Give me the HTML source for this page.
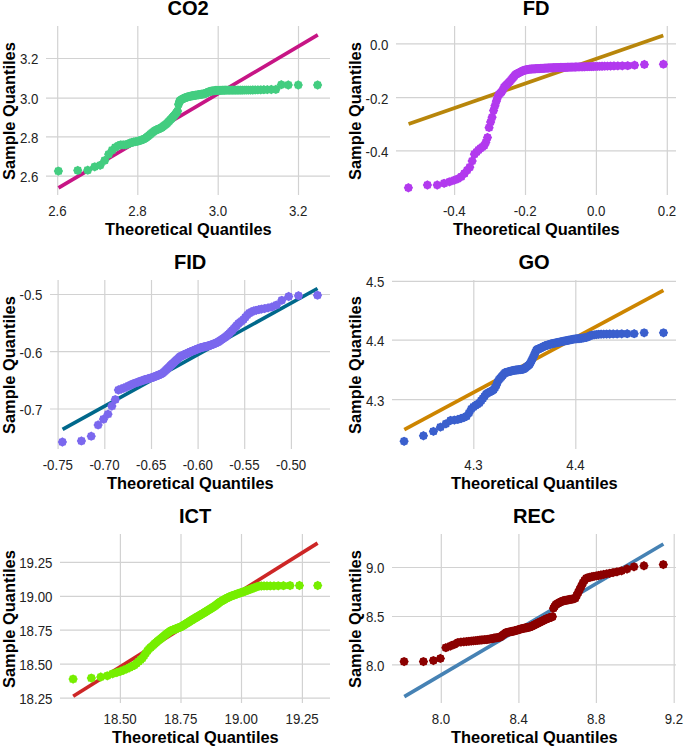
<!DOCTYPE html>
<html><head><meta charset="utf-8"><title>QQ plots</title>
<style>html,body{margin:0;padding:0;background:#fff;} svg{display:block;} text{font-family:"Liberation Sans", sans-serif;}</style>
</head><body>
<svg width="685" height="746" viewBox="0 0 685 746" font-family='"Liberation Sans", sans-serif'><defs><polygon id="pt" points="0.00,-4.65 1.55,-3.74 3.29,-3.29 3.74,-1.55 4.65,-0.00 3.74,1.55 3.29,3.29 1.55,3.74 0.00,4.65 -1.55,3.74 -3.29,3.29 -3.74,1.55 -4.65,0.00 -3.74,-1.55 -3.29,-3.29 -1.55,-3.74"/></defs><g stroke="#D2D2D2" stroke-width="1.2"><line x1="57.7" y1="26" x2="57.7" y2="195" /><line x1="137.8" y1="26" x2="137.8" y2="195" /><line x1="218.2" y1="26" x2="218.2" y2="195" /><line x1="298.5" y1="26" x2="298.5" y2="195" /><line x1="46" y1="58.5" x2="330" y2="58.5" /><line x1="46" y1="98.2" x2="330" y2="98.2" /><line x1="46" y1="136.9" x2="330" y2="136.9" /><line x1="46" y1="176.1" x2="330" y2="176.1" /></g>
<line x1="58.5" y1="187.9" x2="317.8" y2="34.9" stroke="#C71585" stroke-width="3.7" />
<g fill="#43CD80"><use href="#pt" x="58.40" y="171.09"/><use href="#pt" x="77.74" y="170.41"/><use href="#pt" x="87.70" y="170.16"/><use href="#pt" x="94.69" y="166.81"/><use href="#pt" x="100.17" y="165.33"/><use href="#pt" x="104.73" y="160.40"/><use href="#pt" x="108.66" y="154.30"/><use href="#pt" x="112.14" y="150.14"/><use href="#pt" x="115.27" y="147.41"/><use href="#pt" x="118.13" y="145.72"/><use href="#pt" x="120.77" y="144.80"/><use href="#pt" x="123.23" y="144.80"/><use href="#pt" x="125.53" y="144.80"/><use href="#pt" x="127.71" y="144.06"/><use href="#pt" x="129.77" y="143.22"/><use href="#pt" x="131.73" y="142.41"/><use href="#pt" x="133.60" y="142.01"/><use href="#pt" x="135.40" y="141.69"/><use href="#pt" x="137.13" y="141.37"/><use href="#pt" x="138.80" y="140.95"/><use href="#pt" x="140.41" y="140.38"/><use href="#pt" x="141.98" y="139.82"/><use href="#pt" x="143.49" y="139.29"/><use href="#pt" x="144.97" y="138.51"/><use href="#pt" x="146.41" y="137.46"/><use href="#pt" x="147.81" y="136.38"/><use href="#pt" x="149.18" y="135.24"/><use href="#pt" x="150.52" y="134.13"/><use href="#pt" x="151.83" y="133.06"/><use href="#pt" x="153.12" y="132.04"/><use href="#pt" x="154.38" y="131.05"/><use href="#pt" x="155.62" y="130.22"/><use href="#pt" x="156.84" y="129.70"/><use href="#pt" x="158.05" y="129.19"/><use href="#pt" x="159.23" y="128.68"/><use href="#pt" x="160.40" y="128.18"/><use href="#pt" x="161.55" y="127.61"/><use href="#pt" x="162.69" y="126.73"/><use href="#pt" x="163.81" y="125.87"/><use href="#pt" x="164.92" y="125.01"/><use href="#pt" x="166.02" y="124.17"/><use href="#pt" x="167.11" y="123.17"/><use href="#pt" x="168.19" y="122.04"/><use href="#pt" x="169.26" y="120.93"/><use href="#pt" x="170.32" y="119.83"/><use href="#pt" x="171.37" y="118.74"/><use href="#pt" x="172.41" y="117.57"/><use href="#pt" x="173.45" y="116.38"/><use href="#pt" x="174.48" y="115.20"/><use href="#pt" x="175.50" y="114.02"/><use href="#pt" x="176.52" y="112.59"/><use href="#pt" x="177.54" y="111.09"/><use href="#pt" x="178.55" y="104.37"/><use href="#pt" x="179.55" y="101.14"/><use href="#pt" x="180.55" y="100.28"/><use href="#pt" x="181.55" y="99.53"/><use href="#pt" x="182.55" y="98.95"/><use href="#pt" x="183.54" y="98.49"/><use href="#pt" x="184.54" y="98.03"/><use href="#pt" x="185.53" y="97.57"/><use href="#pt" x="186.52" y="97.24"/><use href="#pt" x="187.51" y="96.98"/><use href="#pt" x="188.49" y="96.72"/><use href="#pt" x="189.48" y="96.46"/><use href="#pt" x="190.47" y="96.20"/><use href="#pt" x="191.46" y="95.94"/><use href="#pt" x="192.46" y="95.73"/><use href="#pt" x="193.45" y="95.56"/><use href="#pt" x="194.45" y="95.40"/><use href="#pt" x="195.45" y="95.24"/><use href="#pt" x="196.45" y="95.07"/><use href="#pt" x="197.45" y="94.91"/><use href="#pt" x="198.46" y="94.74"/><use href="#pt" x="199.48" y="94.58"/><use href="#pt" x="200.50" y="94.41"/><use href="#pt" x="201.52" y="94.25"/><use href="#pt" x="202.55" y="94.08"/><use href="#pt" x="203.59" y="93.91"/><use href="#pt" x="204.63" y="93.66"/><use href="#pt" x="205.68" y="93.21"/><use href="#pt" x="206.74" y="92.76"/><use href="#pt" x="207.81" y="92.30"/><use href="#pt" x="208.89" y="91.84"/><use href="#pt" x="209.98" y="91.38"/><use href="#pt" x="211.08" y="91.11"/><use href="#pt" x="212.19" y="90.97"/><use href="#pt" x="213.31" y="90.82"/><use href="#pt" x="214.45" y="90.67"/><use href="#pt" x="215.60" y="90.52"/><use href="#pt" x="216.77" y="90.39"/><use href="#pt" x="217.95" y="90.37"/><use href="#pt" x="219.16" y="90.35"/><use href="#pt" x="220.38" y="90.32"/><use href="#pt" x="221.62" y="90.30"/><use href="#pt" x="222.88" y="90.27"/><use href="#pt" x="224.17" y="90.25"/><use href="#pt" x="225.48" y="90.22"/><use href="#pt" x="226.82" y="90.20"/><use href="#pt" x="228.19" y="90.20"/><use href="#pt" x="229.59" y="90.20"/><use href="#pt" x="231.03" y="90.20"/><use href="#pt" x="232.51" y="90.20"/><use href="#pt" x="234.02" y="90.20"/><use href="#pt" x="235.59" y="90.20"/><use href="#pt" x="237.20" y="90.20"/><use href="#pt" x="238.87" y="90.20"/><use href="#pt" x="240.60" y="90.19"/><use href="#pt" x="242.40" y="90.16"/><use href="#pt" x="244.27" y="90.13"/><use href="#pt" x="246.23" y="90.10"/><use href="#pt" x="248.29" y="90.07"/><use href="#pt" x="250.47" y="90.04"/><use href="#pt" x="252.77" y="90.00"/><use href="#pt" x="255.23" y="89.94"/><use href="#pt" x="257.87" y="89.87"/><use href="#pt" x="260.73" y="89.80"/><use href="#pt" x="263.86" y="89.72"/><use href="#pt" x="267.34" y="89.63"/><use href="#pt" x="271.27" y="89.52"/><use href="#pt" x="275.83" y="89.40"/><use href="#pt" x="281.31" y="84.72"/><use href="#pt" x="288.30" y="85.00"/><use href="#pt" x="298.26" y="85.00"/><use href="#pt" x="317.60" y="85.00"/></g>
<g font-size="14.2" fill="#222"><text transform="translate(57.4,215.5) scale(0.935,1)" text-anchor="middle">2.6</text><text transform="translate(137.5,215.5) scale(0.935,1)" text-anchor="middle">2.8</text><text transform="translate(217.9,215.5) scale(0.935,1)" text-anchor="middle">3.0</text><text transform="translate(298.2,215.5) scale(0.935,1)" text-anchor="middle">3.2</text><text transform="translate(38.4,64.4) scale(0.935,1)" text-anchor="end">3.2</text><text transform="translate(38.4,104.1) scale(0.935,1)" text-anchor="end">3.0</text><text transform="translate(38.4,142.8) scale(0.935,1)" text-anchor="end">2.8</text><text transform="translate(38.4,182.0) scale(0.935,1)" text-anchor="end">2.6</text></g>
<text x="188.35" y="234.7" text-anchor="middle" font-size="16.4" font-weight="bold">Theoretical Quantiles</text>
<text transform="translate(14.5,111.1) rotate(-90)" text-anchor="middle" font-size="16.45" font-weight="bold">Sample Quantiles</text>
<text x="188.1" y="15.4" text-anchor="middle" font-size="20.1" font-weight="bold">CO2</text>
<g stroke="#D2D2D2" stroke-width="1.2"><line x1="454.6" y1="26" x2="454.6" y2="195" /><line x1="525.5" y1="26" x2="525.5" y2="195" /><line x1="596.4" y1="26" x2="596.4" y2="195" /><line x1="667.3" y1="26" x2="667.3" y2="195" /><line x1="396" y1="43.9" x2="676" y2="43.9" /><line x1="396" y1="97.6" x2="676" y2="97.6" /><line x1="396" y1="150.9" x2="676" y2="150.9" /></g>
<line x1="408.6" y1="123.9" x2="663.3" y2="35.6" stroke="#B8860B" stroke-width="3.7" />
<g fill="#B23AEE"><use href="#pt" x="408.40" y="187.77"/><use href="#pt" x="427.42" y="185.00"/><use href="#pt" x="437.22" y="185.00"/><use href="#pt" x="444.10" y="183.34"/><use href="#pt" x="449.49" y="181.78"/><use href="#pt" x="453.98" y="180.30"/><use href="#pt" x="457.85" y="178.82"/><use href="#pt" x="461.27" y="176.64"/><use href="#pt" x="464.35" y="173.61"/><use href="#pt" x="467.17" y="170.29"/><use href="#pt" x="469.76" y="167.14"/><use href="#pt" x="472.18" y="161.06"/><use href="#pt" x="474.45" y="154.16"/><use href="#pt" x="476.58" y="151.92"/><use href="#pt" x="478.61" y="149.89"/><use href="#pt" x="480.54" y="148.29"/><use href="#pt" x="482.38" y="146.93"/><use href="#pt" x="484.15" y="145.63"/><use href="#pt" x="485.86" y="142.23"/><use href="#pt" x="487.50" y="137.43"/><use href="#pt" x="489.08" y="127.63"/><use href="#pt" x="490.62" y="121.94"/><use href="#pt" x="492.11" y="117.22"/><use href="#pt" x="493.57" y="110.48"/><use href="#pt" x="494.98" y="105.77"/><use href="#pt" x="496.36" y="101.17"/><use href="#pt" x="497.71" y="97.23"/><use href="#pt" x="499.03" y="94.39"/><use href="#pt" x="500.32" y="93.13"/><use href="#pt" x="501.58" y="91.90"/><use href="#pt" x="502.83" y="89.95"/><use href="#pt" x="504.05" y="87.25"/><use href="#pt" x="505.25" y="86.05"/><use href="#pt" x="506.43" y="84.87"/><use href="#pt" x="507.60" y="83.70"/><use href="#pt" x="508.75" y="82.55"/><use href="#pt" x="509.88" y="81.41"/><use href="#pt" x="511.00" y="80.05"/><use href="#pt" x="512.10" y="78.72"/><use href="#pt" x="513.20" y="77.40"/><use href="#pt" x="514.28" y="76.10"/><use href="#pt" x="515.35" y="74.80"/><use href="#pt" x="516.41" y="74.09"/><use href="#pt" x="517.46" y="73.55"/><use href="#pt" x="518.50" y="73.01"/><use href="#pt" x="519.54" y="72.48"/><use href="#pt" x="520.57" y="71.96"/><use href="#pt" x="521.59" y="71.43"/><use href="#pt" x="522.60" y="70.91"/><use href="#pt" x="523.61" y="70.40"/><use href="#pt" x="524.61" y="70.14"/><use href="#pt" x="525.61" y="69.95"/><use href="#pt" x="526.60" y="69.76"/><use href="#pt" x="527.59" y="69.57"/><use href="#pt" x="528.58" y="69.38"/><use href="#pt" x="529.56" y="69.19"/><use href="#pt" x="530.54" y="69.07"/><use href="#pt" x="531.52" y="69.01"/><use href="#pt" x="532.49" y="68.95"/><use href="#pt" x="533.47" y="68.89"/><use href="#pt" x="534.44" y="68.83"/><use href="#pt" x="535.41" y="68.77"/><use href="#pt" x="536.39" y="68.71"/><use href="#pt" x="537.36" y="68.65"/><use href="#pt" x="538.33" y="68.59"/><use href="#pt" x="539.31" y="68.53"/><use href="#pt" x="540.28" y="68.47"/><use href="#pt" x="541.26" y="68.41"/><use href="#pt" x="542.24" y="68.35"/><use href="#pt" x="543.22" y="68.29"/><use href="#pt" x="544.21" y="68.23"/><use href="#pt" x="545.20" y="68.16"/><use href="#pt" x="546.19" y="68.10"/><use href="#pt" x="547.19" y="68.04"/><use href="#pt" x="548.19" y="67.98"/><use href="#pt" x="549.20" y="67.92"/><use href="#pt" x="550.21" y="67.87"/><use href="#pt" x="551.23" y="67.84"/><use href="#pt" x="552.26" y="67.80"/><use href="#pt" x="553.30" y="67.77"/><use href="#pt" x="554.34" y="67.73"/><use href="#pt" x="555.39" y="67.69"/><use href="#pt" x="556.45" y="67.65"/><use href="#pt" x="557.52" y="67.61"/><use href="#pt" x="558.60" y="67.58"/><use href="#pt" x="559.70" y="67.54"/><use href="#pt" x="560.80" y="67.50"/><use href="#pt" x="561.92" y="67.46"/><use href="#pt" x="563.05" y="67.42"/><use href="#pt" x="564.20" y="67.38"/><use href="#pt" x="565.37" y="67.34"/><use href="#pt" x="566.55" y="67.29"/><use href="#pt" x="567.75" y="67.25"/><use href="#pt" x="568.97" y="67.21"/><use href="#pt" x="570.22" y="67.16"/><use href="#pt" x="571.48" y="67.12"/><use href="#pt" x="572.77" y="67.08"/><use href="#pt" x="574.09" y="67.04"/><use href="#pt" x="575.44" y="67.00"/><use href="#pt" x="576.82" y="66.96"/><use href="#pt" x="578.23" y="66.92"/><use href="#pt" x="579.69" y="66.88"/><use href="#pt" x="581.18" y="66.84"/><use href="#pt" x="582.72" y="66.79"/><use href="#pt" x="584.30" y="66.75"/><use href="#pt" x="585.94" y="66.70"/><use href="#pt" x="587.65" y="66.65"/><use href="#pt" x="589.42" y="66.60"/><use href="#pt" x="591.26" y="66.55"/><use href="#pt" x="593.19" y="66.49"/><use href="#pt" x="595.22" y="66.44"/><use href="#pt" x="597.35" y="66.38"/><use href="#pt" x="599.62" y="66.31"/><use href="#pt" x="602.04" y="66.25"/><use href="#pt" x="604.63" y="66.19"/><use href="#pt" x="607.45" y="66.13"/><use href="#pt" x="610.53" y="66.05"/><use href="#pt" x="613.95" y="65.97"/><use href="#pt" x="617.82" y="65.88"/><use href="#pt" x="622.31" y="65.78"/><use href="#pt" x="627.70" y="65.65"/><use href="#pt" x="634.58" y="65.17"/><use href="#pt" x="644.38" y="64.45"/><use href="#pt" x="663.40" y="64.20"/></g>
<g font-size="14.2" fill="#222"><text transform="translate(454.3,215.5) scale(0.935,1)" text-anchor="middle">-0.4</text><text transform="translate(525.2,215.5) scale(0.935,1)" text-anchor="middle">-0.2</text><text transform="translate(596.1,215.5) scale(0.935,1)" text-anchor="middle">0.0</text><text transform="translate(667.0,215.5) scale(0.935,1)" text-anchor="middle">0.2</text><text transform="translate(388.4,49.8) scale(0.935,1)" text-anchor="end">0.0</text><text transform="translate(388.4,103.5) scale(0.935,1)" text-anchor="end">-0.2</text><text transform="translate(388.4,156.8) scale(0.935,1)" text-anchor="end">-0.4</text></g>
<text x="536.35" y="234.7" text-anchor="middle" font-size="16.4" font-weight="bold">Theoretical Quantiles</text>
<text transform="translate(360.5,111.1) rotate(-90)" text-anchor="middle" font-size="16.45" font-weight="bold">Sample Quantiles</text>
<text x="536.1" y="15.4" text-anchor="middle" font-size="20.1" font-weight="bold">FD</text>
<g stroke="#D2D2D2" stroke-width="1.2"><line x1="58.1" y1="280" x2="58.1" y2="449" /><line x1="104.8" y1="280" x2="104.8" y2="449" /><line x1="151.5" y1="280" x2="151.5" y2="449" /><line x1="198.1" y1="280" x2="198.1" y2="449" /><line x1="244.7" y1="280" x2="244.7" y2="449" /><line x1="291.4" y1="280" x2="291.4" y2="449" /><line x1="50" y1="294.5" x2="330" y2="294.5" /><line x1="50" y1="351.7" x2="330" y2="351.7" /><line x1="50" y1="409" x2="330" y2="409" /></g>
<line x1="62.6" y1="429.4" x2="317.5" y2="288.5" stroke="#00688B" stroke-width="3.7" />
<g fill="#7B68EE"><use href="#pt" x="62.40" y="442.00"/><use href="#pt" x="81.43" y="440.89"/><use href="#pt" x="91.23" y="436.18"/><use href="#pt" x="98.11" y="424.96"/><use href="#pt" x="103.51" y="419.15"/><use href="#pt" x="108.00" y="414.13"/><use href="#pt" x="111.87" y="406.10"/><use href="#pt" x="115.29" y="399.60"/><use href="#pt" x="118.38" y="390.02"/><use href="#pt" x="121.19" y="388.99"/><use href="#pt" x="123.79" y="388.05"/><use href="#pt" x="126.20" y="386.99"/><use href="#pt" x="128.47" y="385.97"/><use href="#pt" x="130.61" y="385.00"/><use href="#pt" x="132.64" y="384.08"/><use href="#pt" x="134.57" y="383.29"/><use href="#pt" x="136.41" y="382.63"/><use href="#pt" x="138.18" y="382.00"/><use href="#pt" x="139.89" y="381.39"/><use href="#pt" x="141.53" y="380.80"/><use href="#pt" x="143.12" y="380.23"/><use href="#pt" x="144.65" y="379.77"/><use href="#pt" x="146.15" y="379.33"/><use href="#pt" x="147.60" y="378.90"/><use href="#pt" x="149.01" y="378.49"/><use href="#pt" x="150.39" y="378.08"/><use href="#pt" x="151.74" y="377.68"/><use href="#pt" x="153.06" y="377.26"/><use href="#pt" x="154.35" y="376.74"/><use href="#pt" x="155.62" y="376.23"/><use href="#pt" x="156.86" y="375.73"/><use href="#pt" x="158.09" y="375.25"/><use href="#pt" x="159.29" y="374.76"/><use href="#pt" x="160.47" y="374.29"/><use href="#pt" x="161.64" y="373.83"/><use href="#pt" x="162.78" y="373.05"/><use href="#pt" x="163.92" y="371.99"/><use href="#pt" x="165.04" y="370.94"/><use href="#pt" x="166.14" y="369.91"/><use href="#pt" x="167.24" y="368.86"/><use href="#pt" x="168.32" y="367.78"/><use href="#pt" x="169.39" y="366.71"/><use href="#pt" x="170.45" y="365.65"/><use href="#pt" x="171.50" y="364.61"/><use href="#pt" x="172.55" y="363.65"/><use href="#pt" x="173.58" y="362.70"/><use href="#pt" x="174.61" y="361.75"/><use href="#pt" x="175.63" y="360.81"/><use href="#pt" x="176.64" y="359.87"/><use href="#pt" x="177.65" y="358.94"/><use href="#pt" x="178.66" y="358.02"/><use href="#pt" x="179.65" y="357.10"/><use href="#pt" x="180.65" y="356.34"/><use href="#pt" x="181.64" y="355.88"/><use href="#pt" x="182.62" y="355.43"/><use href="#pt" x="183.61" y="354.98"/><use href="#pt" x="184.59" y="354.52"/><use href="#pt" x="185.56" y="354.07"/><use href="#pt" x="186.54" y="353.62"/><use href="#pt" x="187.52" y="353.18"/><use href="#pt" x="188.49" y="352.73"/><use href="#pt" x="189.46" y="352.28"/><use href="#pt" x="190.44" y="351.83"/><use href="#pt" x="191.41" y="351.44"/><use href="#pt" x="192.38" y="351.05"/><use href="#pt" x="193.36" y="350.66"/><use href="#pt" x="194.34" y="350.27"/><use href="#pt" x="195.31" y="349.88"/><use href="#pt" x="196.29" y="349.49"/><use href="#pt" x="197.28" y="349.10"/><use href="#pt" x="198.26" y="348.71"/><use href="#pt" x="199.25" y="348.32"/><use href="#pt" x="200.25" y="347.92"/><use href="#pt" x="201.24" y="347.59"/><use href="#pt" x="202.25" y="347.33"/><use href="#pt" x="203.26" y="347.07"/><use href="#pt" x="204.27" y="346.82"/><use href="#pt" x="205.29" y="346.56"/><use href="#pt" x="206.32" y="346.29"/><use href="#pt" x="207.35" y="346.03"/><use href="#pt" x="208.40" y="345.76"/><use href="#pt" x="209.45" y="345.50"/><use href="#pt" x="210.51" y="345.23"/><use href="#pt" x="211.58" y="344.85"/><use href="#pt" x="212.66" y="344.37"/><use href="#pt" x="213.76" y="343.90"/><use href="#pt" x="214.86" y="343.41"/><use href="#pt" x="215.98" y="342.92"/><use href="#pt" x="217.12" y="342.43"/><use href="#pt" x="218.26" y="341.89"/><use href="#pt" x="219.43" y="341.09"/><use href="#pt" x="220.61" y="340.28"/><use href="#pt" x="221.81" y="339.46"/><use href="#pt" x="223.04" y="338.63"/><use href="#pt" x="224.28" y="337.78"/><use href="#pt" x="225.55" y="336.91"/><use href="#pt" x="226.84" y="335.86"/><use href="#pt" x="228.16" y="334.54"/><use href="#pt" x="229.51" y="333.19"/><use href="#pt" x="230.89" y="331.81"/><use href="#pt" x="232.30" y="330.40"/><use href="#pt" x="233.75" y="328.79"/><use href="#pt" x="235.25" y="327.12"/><use href="#pt" x="236.78" y="325.39"/><use href="#pt" x="238.37" y="323.64"/><use href="#pt" x="240.01" y="322.32"/><use href="#pt" x="241.72" y="320.95"/><use href="#pt" x="243.49" y="319.50"/><use href="#pt" x="245.33" y="317.29"/><use href="#pt" x="247.26" y="314.98"/><use href="#pt" x="249.29" y="313.10"/><use href="#pt" x="251.43" y="312.01"/><use href="#pt" x="253.70" y="310.88"/><use href="#pt" x="256.11" y="310.28"/><use href="#pt" x="258.71" y="309.64"/><use href="#pt" x="261.52" y="309.11"/><use href="#pt" x="264.61" y="308.61"/><use href="#pt" x="268.03" y="307.88"/><use href="#pt" x="271.90" y="306.92"/><use href="#pt" x="276.39" y="305.09"/><use href="#pt" x="281.79" y="300.31"/><use href="#pt" x="288.67" y="296.50"/><use href="#pt" x="298.47" y="295.70"/><use href="#pt" x="317.50" y="295.20"/></g>
<g font-size="14.2" fill="#222"><text transform="translate(57.8,469.5) scale(0.935,1)" text-anchor="middle">-0.75</text><text transform="translate(104.5,469.5) scale(0.935,1)" text-anchor="middle">-0.70</text><text transform="translate(151.2,469.5) scale(0.935,1)" text-anchor="middle">-0.65</text><text transform="translate(197.8,469.5) scale(0.935,1)" text-anchor="middle">-0.60</text><text transform="translate(244.4,469.5) scale(0.935,1)" text-anchor="middle">-0.55</text><text transform="translate(291.1,469.5) scale(0.935,1)" text-anchor="middle">-0.50</text><text transform="translate(42.4,300.4) scale(0.935,1)" text-anchor="end">-0.5</text><text transform="translate(42.4,357.6) scale(0.935,1)" text-anchor="end">-0.6</text><text transform="translate(42.4,414.9) scale(0.935,1)" text-anchor="end">-0.7</text></g>
<text x="190.35" y="488.7" text-anchor="middle" font-size="16.4" font-weight="bold">Theoretical Quantiles</text>
<text transform="translate(14.5,365.1) rotate(-90)" text-anchor="middle" font-size="16.45" font-weight="bold">Sample Quantiles</text>
<text x="190.1" y="269.4" text-anchor="middle" font-size="20.1" font-weight="bold">FID</text>
<g stroke="#D2D2D2" stroke-width="1.2"><line x1="473.8" y1="280" x2="473.8" y2="449" /><line x1="575.8" y1="280" x2="575.8" y2="449" /><line x1="392" y1="281.3" x2="676" y2="281.3" /><line x1="392" y1="340.2" x2="676" y2="340.2" /><line x1="392" y1="399.7" x2="676" y2="399.7" /></g>
<line x1="404.3" y1="429.6" x2="663.4" y2="290.4" stroke="#CD8500" stroke-width="3.7" />
<g fill="#3A5FCD"><use href="#pt" x="404.10" y="441.30"/><use href="#pt" x="423.45" y="435.73"/><use href="#pt" x="433.42" y="431.37"/><use href="#pt" x="440.42" y="427.13"/><use href="#pt" x="445.90" y="423.78"/><use href="#pt" x="450.47" y="420.52"/><use href="#pt" x="454.40" y="420.10"/><use href="#pt" x="457.88" y="419.42"/><use href="#pt" x="461.02" y="418.48"/><use href="#pt" x="463.88" y="417.56"/><use href="#pt" x="466.52" y="416.20"/><use href="#pt" x="468.98" y="413.04"/><use href="#pt" x="471.29" y="409.01"/><use href="#pt" x="473.46" y="406.89"/><use href="#pt" x="475.52" y="405.50"/><use href="#pt" x="477.48" y="404.19"/><use href="#pt" x="479.36" y="402.93"/><use href="#pt" x="481.16" y="400.64"/><use href="#pt" x="482.89" y="398.42"/><use href="#pt" x="484.56" y="396.20"/><use href="#pt" x="486.18" y="393.92"/><use href="#pt" x="487.74" y="392.93"/><use href="#pt" x="489.26" y="392.17"/><use href="#pt" x="490.73" y="391.43"/><use href="#pt" x="492.17" y="390.71"/><use href="#pt" x="493.58" y="389.82"/><use href="#pt" x="494.95" y="387.66"/><use href="#pt" x="496.29" y="385.27"/><use href="#pt" x="497.60" y="381.95"/><use href="#pt" x="498.89" y="379.78"/><use href="#pt" x="500.16" y="378.32"/><use href="#pt" x="501.40" y="376.88"/><use href="#pt" x="502.62" y="375.47"/><use href="#pt" x="503.82" y="374.08"/><use href="#pt" x="505.01" y="372.71"/><use href="#pt" x="506.18" y="372.33"/><use href="#pt" x="507.33" y="372.03"/><use href="#pt" x="508.47" y="371.74"/><use href="#pt" x="509.59" y="371.45"/><use href="#pt" x="510.70" y="371.17"/><use href="#pt" x="511.81" y="370.89"/><use href="#pt" x="512.89" y="370.61"/><use href="#pt" x="513.97" y="370.33"/><use href="#pt" x="515.04" y="370.14"/><use href="#pt" x="516.10" y="370.01"/><use href="#pt" x="517.16" y="369.89"/><use href="#pt" x="518.20" y="369.76"/><use href="#pt" x="519.24" y="369.64"/><use href="#pt" x="520.27" y="369.52"/><use href="#pt" x="521.30" y="369.40"/><use href="#pt" x="522.31" y="369.28"/><use href="#pt" x="523.33" y="369.16"/><use href="#pt" x="524.34" y="368.66"/><use href="#pt" x="525.35" y="367.85"/><use href="#pt" x="526.35" y="367.03"/><use href="#pt" x="527.35" y="366.22"/><use href="#pt" x="528.35" y="365.42"/><use href="#pt" x="529.34" y="364.61"/><use href="#pt" x="530.33" y="362.93"/><use href="#pt" x="531.32" y="360.95"/><use href="#pt" x="532.32" y="358.97"/><use href="#pt" x="533.31" y="356.94"/><use href="#pt" x="534.29" y="354.74"/><use href="#pt" x="535.28" y="352.53"/><use href="#pt" x="536.28" y="350.32"/><use href="#pt" x="537.27" y="349.36"/><use href="#pt" x="538.26" y="349.01"/><use href="#pt" x="539.25" y="348.66"/><use href="#pt" x="540.25" y="348.27"/><use href="#pt" x="541.25" y="347.75"/><use href="#pt" x="542.25" y="347.23"/><use href="#pt" x="543.26" y="346.70"/><use href="#pt" x="544.27" y="346.18"/><use href="#pt" x="545.29" y="345.71"/><use href="#pt" x="546.30" y="345.41"/><use href="#pt" x="547.33" y="345.10"/><use href="#pt" x="548.36" y="344.80"/><use href="#pt" x="549.40" y="344.49"/><use href="#pt" x="550.44" y="344.17"/><use href="#pt" x="551.50" y="343.86"/><use href="#pt" x="552.56" y="343.61"/><use href="#pt" x="553.63" y="343.37"/><use href="#pt" x="554.71" y="343.13"/><use href="#pt" x="555.79" y="342.89"/><use href="#pt" x="556.90" y="342.65"/><use href="#pt" x="558.01" y="342.40"/><use href="#pt" x="559.13" y="342.15"/><use href="#pt" x="560.27" y="341.90"/><use href="#pt" x="561.42" y="341.64"/><use href="#pt" x="562.59" y="341.38"/><use href="#pt" x="563.78" y="341.13"/><use href="#pt" x="564.98" y="340.89"/><use href="#pt" x="566.20" y="340.64"/><use href="#pt" x="567.44" y="340.40"/><use href="#pt" x="568.71" y="340.15"/><use href="#pt" x="570.00" y="339.89"/><use href="#pt" x="571.31" y="339.63"/><use href="#pt" x="572.65" y="339.37"/><use href="#pt" x="574.02" y="339.09"/><use href="#pt" x="575.43" y="338.87"/><use href="#pt" x="576.87" y="338.75"/><use href="#pt" x="578.34" y="338.63"/><use href="#pt" x="579.86" y="338.51"/><use href="#pt" x="581.42" y="338.26"/><use href="#pt" x="583.04" y="337.98"/><use href="#pt" x="584.71" y="337.69"/><use href="#pt" x="586.44" y="337.40"/><use href="#pt" x="588.24" y="336.68"/><use href="#pt" x="590.12" y="335.74"/><use href="#pt" x="592.08" y="335.16"/><use href="#pt" x="594.14" y="334.88"/><use href="#pt" x="596.31" y="334.59"/><use href="#pt" x="598.62" y="334.28"/><use href="#pt" x="601.08" y="334.17"/><use href="#pt" x="603.72" y="334.12"/><use href="#pt" x="606.58" y="334.07"/><use href="#pt" x="609.72" y="334.02"/><use href="#pt" x="613.20" y="333.96"/><use href="#pt" x="617.13" y="333.89"/><use href="#pt" x="621.70" y="333.81"/><use href="#pt" x="627.18" y="333.72"/><use href="#pt" x="634.18" y="333.70"/><use href="#pt" x="644.15" y="332.80"/><use href="#pt" x="663.50" y="332.80"/></g>
<g font-size="14.2" fill="#222"><text transform="translate(473.5,469.5) scale(0.935,1)" text-anchor="middle">4.3</text><text transform="translate(575.5,469.5) scale(0.935,1)" text-anchor="middle">4.4</text><text transform="translate(384.4,287.2) scale(0.935,1)" text-anchor="end">4.5</text><text transform="translate(384.4,346.1) scale(0.935,1)" text-anchor="end">4.4</text><text transform="translate(384.4,405.6) scale(0.935,1)" text-anchor="end">4.3</text></g>
<text x="534.35" y="488.7" text-anchor="middle" font-size="16.4" font-weight="bold">Theoretical Quantiles</text>
<text transform="translate(360.5,365.1) rotate(-90)" text-anchor="middle" font-size="16.45" font-weight="bold">Sample Quantiles</text>
<text x="534.1" y="269.4" text-anchor="middle" font-size="20.1" font-weight="bold">GO</text>
<g stroke="#D2D2D2" stroke-width="1.2"><line x1="120.4" y1="534" x2="120.4" y2="703" /><line x1="181.0" y1="534" x2="181.0" y2="703" /><line x1="241.5" y1="534" x2="241.5" y2="703" /><line x1="302.4" y1="534" x2="302.4" y2="703" /><line x1="60" y1="562.3" x2="330" y2="562.3" /><line x1="60" y1="596.3" x2="330" y2="596.3" /><line x1="60" y1="630.2" x2="330" y2="630.2" /><line x1="60" y1="664.1" x2="330" y2="664.1" /><line x1="60" y1="698.1" x2="330" y2="698.1" /></g>
<line x1="73.2" y1="696.2" x2="317.6" y2="543.1" stroke="#CD2626" stroke-width="3.7" />
<g fill="#76EE00"><use href="#pt" x="73.10" y="679.09"/><use href="#pt" x="91.35" y="678.11"/><use href="#pt" x="100.75" y="677.01"/><use href="#pt" x="107.34" y="675.78"/><use href="#pt" x="112.52" y="673.82"/><use href="#pt" x="116.82" y="672.48"/><use href="#pt" x="120.53" y="671.35"/><use href="#pt" x="123.82" y="670.04"/><use href="#pt" x="126.77" y="668.87"/><use href="#pt" x="129.47" y="667.60"/><use href="#pt" x="131.96" y="666.34"/><use href="#pt" x="134.28" y="665.17"/><use href="#pt" x="136.45" y="663.48"/><use href="#pt" x="138.50" y="661.62"/><use href="#pt" x="140.45" y="659.85"/><use href="#pt" x="142.30" y="658.17"/><use href="#pt" x="144.07" y="655.79"/><use href="#pt" x="145.76" y="653.29"/><use href="#pt" x="147.40" y="650.88"/><use href="#pt" x="148.97" y="648.99"/><use href="#pt" x="150.49" y="647.60"/><use href="#pt" x="151.97" y="646.25"/><use href="#pt" x="153.40" y="644.94"/><use href="#pt" x="154.79" y="643.66"/><use href="#pt" x="156.15" y="642.42"/><use href="#pt" x="157.47" y="641.30"/><use href="#pt" x="158.77" y="640.24"/><use href="#pt" x="160.03" y="639.20"/><use href="#pt" x="161.27" y="638.18"/><use href="#pt" x="162.48" y="637.19"/><use href="#pt" x="163.68" y="636.21"/><use href="#pt" x="164.85" y="635.24"/><use href="#pt" x="166.00" y="634.36"/><use href="#pt" x="167.13" y="633.49"/><use href="#pt" x="168.25" y="632.64"/><use href="#pt" x="169.35" y="631.80"/><use href="#pt" x="170.44" y="630.98"/><use href="#pt" x="171.51" y="630.56"/><use href="#pt" x="172.57" y="630.14"/><use href="#pt" x="173.62" y="629.72"/><use href="#pt" x="174.66" y="629.31"/><use href="#pt" x="175.69" y="628.90"/><use href="#pt" x="176.70" y="628.50"/><use href="#pt" x="177.71" y="628.10"/><use href="#pt" x="178.71" y="627.70"/><use href="#pt" x="179.71" y="627.31"/><use href="#pt" x="180.69" y="626.92"/><use href="#pt" x="181.67" y="626.49"/><use href="#pt" x="182.64" y="625.88"/><use href="#pt" x="183.61" y="625.27"/><use href="#pt" x="184.57" y="624.66"/><use href="#pt" x="185.53" y="624.06"/><use href="#pt" x="186.48" y="623.46"/><use href="#pt" x="187.43" y="622.86"/><use href="#pt" x="188.37" y="622.26"/><use href="#pt" x="189.32" y="621.67"/><use href="#pt" x="190.26" y="621.08"/><use href="#pt" x="191.19" y="620.49"/><use href="#pt" x="192.13" y="619.90"/><use href="#pt" x="193.07" y="619.32"/><use href="#pt" x="194.00" y="618.77"/><use href="#pt" x="194.93" y="618.21"/><use href="#pt" x="195.87" y="617.66"/><use href="#pt" x="196.80" y="617.10"/><use href="#pt" x="197.73" y="616.55"/><use href="#pt" x="198.67" y="615.99"/><use href="#pt" x="199.61" y="615.43"/><use href="#pt" x="200.54" y="614.88"/><use href="#pt" x="201.48" y="614.32"/><use href="#pt" x="202.43" y="613.76"/><use href="#pt" x="203.37" y="613.20"/><use href="#pt" x="204.32" y="612.61"/><use href="#pt" x="205.27" y="612.02"/><use href="#pt" x="206.23" y="611.43"/><use href="#pt" x="207.19" y="610.83"/><use href="#pt" x="208.16" y="610.23"/><use href="#pt" x="209.13" y="609.62"/><use href="#pt" x="210.11" y="609.02"/><use href="#pt" x="211.09" y="608.40"/><use href="#pt" x="212.09" y="607.79"/><use href="#pt" x="213.09" y="607.16"/><use href="#pt" x="214.10" y="606.54"/><use href="#pt" x="215.11" y="605.85"/><use href="#pt" x="216.14" y="605.04"/><use href="#pt" x="217.18" y="604.23"/><use href="#pt" x="218.23" y="603.40"/><use href="#pt" x="219.29" y="602.56"/><use href="#pt" x="220.36" y="601.79"/><use href="#pt" x="221.45" y="601.17"/><use href="#pt" x="222.55" y="600.53"/><use href="#pt" x="223.67" y="599.89"/><use href="#pt" x="224.80" y="599.23"/><use href="#pt" x="225.95" y="598.57"/><use href="#pt" x="227.12" y="598.00"/><use href="#pt" x="228.32" y="597.42"/><use href="#pt" x="229.53" y="596.83"/><use href="#pt" x="230.77" y="596.31"/><use href="#pt" x="232.03" y="595.84"/><use href="#pt" x="233.33" y="595.36"/><use href="#pt" x="234.65" y="594.87"/><use href="#pt" x="236.01" y="594.37"/><use href="#pt" x="237.40" y="593.86"/><use href="#pt" x="238.83" y="593.37"/><use href="#pt" x="240.31" y="592.87"/><use href="#pt" x="241.83" y="592.35"/><use href="#pt" x="243.40" y="591.81"/><use href="#pt" x="245.04" y="591.23"/><use href="#pt" x="246.73" y="590.59"/><use href="#pt" x="248.50" y="589.92"/><use href="#pt" x="250.35" y="589.22"/><use href="#pt" x="252.30" y="588.49"/><use href="#pt" x="254.35" y="587.75"/><use href="#pt" x="256.52" y="586.97"/><use href="#pt" x="258.84" y="586.13"/><use href="#pt" x="261.33" y="585.98"/><use href="#pt" x="264.03" y="585.96"/><use href="#pt" x="266.98" y="585.94"/><use href="#pt" x="270.27" y="585.92"/><use href="#pt" x="273.98" y="585.88"/><use href="#pt" x="278.28" y="585.80"/><use href="#pt" x="283.46" y="585.70"/><use href="#pt" x="290.05" y="585.61"/><use href="#pt" x="299.45" y="585.50"/><use href="#pt" x="317.70" y="585.50"/></g>
<g font-size="14.2" fill="#222"><text transform="translate(120.1,723.5) scale(0.935,1)" text-anchor="middle">18.50</text><text transform="translate(180.7,723.5) scale(0.935,1)" text-anchor="middle">18.75</text><text transform="translate(241.2,723.5) scale(0.935,1)" text-anchor="middle">19.00</text><text transform="translate(302.1,723.5) scale(0.935,1)" text-anchor="middle">19.25</text><text transform="translate(52.4,568.2) scale(0.935,1)" text-anchor="end">19.25</text><text transform="translate(52.4,602.2) scale(0.935,1)" text-anchor="end">19.00</text><text transform="translate(52.4,636.1) scale(0.935,1)" text-anchor="end">18.75</text><text transform="translate(52.4,670.0) scale(0.935,1)" text-anchor="end">18.50</text><text transform="translate(52.4,704.0) scale(0.935,1)" text-anchor="end">18.25</text></g>
<text x="195.35" y="742.7" text-anchor="middle" font-size="16.4" font-weight="bold">Theoretical Quantiles</text>
<text transform="translate(14.5,619.1) rotate(-90)" text-anchor="middle" font-size="16.45" font-weight="bold">Sample Quantiles</text>
<text x="195.1" y="523.4" text-anchor="middle" font-size="20.1" font-weight="bold">ICT</text>
<g stroke="#D2D2D2" stroke-width="1.2"><line x1="441.3" y1="534" x2="441.3" y2="703" /><line x1="518.9" y1="534" x2="518.9" y2="703" /><line x1="596.4" y1="534" x2="596.4" y2="703" /><line x1="674.2" y1="534" x2="674.2" y2="703" /><line x1="392" y1="567.5" x2="676" y2="567.5" /><line x1="392" y1="616.5" x2="676" y2="616.5" /><line x1="392" y1="664.9" x2="676" y2="664.9" /></g>
<line x1="404.3" y1="696.7" x2="663.4" y2="544.0" stroke="#4682B4" stroke-width="3.7" />
<g fill="#8B0000"><use href="#pt" x="404.10" y="661.60"/><use href="#pt" x="423.44" y="661.60"/><use href="#pt" x="433.40" y="660.57"/><use href="#pt" x="440.39" y="658.46"/><use href="#pt" x="445.87" y="647.66"/><use href="#pt" x="450.43" y="645.99"/><use href="#pt" x="454.36" y="644.39"/><use href="#pt" x="457.84" y="642.59"/><use href="#pt" x="460.97" y="642.05"/><use href="#pt" x="463.83" y="641.78"/><use href="#pt" x="466.47" y="641.53"/><use href="#pt" x="468.93" y="641.29"/><use href="#pt" x="471.23" y="641.07"/><use href="#pt" x="473.41" y="640.86"/><use href="#pt" x="475.47" y="640.63"/><use href="#pt" x="477.43" y="640.41"/><use href="#pt" x="479.30" y="640.21"/><use href="#pt" x="481.10" y="640.02"/><use href="#pt" x="482.83" y="639.86"/><use href="#pt" x="484.50" y="639.70"/><use href="#pt" x="486.11" y="639.54"/><use href="#pt" x="487.68" y="639.39"/><use href="#pt" x="489.19" y="639.09"/><use href="#pt" x="490.67" y="638.81"/><use href="#pt" x="492.11" y="638.54"/><use href="#pt" x="493.51" y="638.27"/><use href="#pt" x="494.88" y="638.00"/><use href="#pt" x="496.22" y="637.79"/><use href="#pt" x="497.53" y="637.59"/><use href="#pt" x="498.82" y="637.39"/><use href="#pt" x="500.08" y="637.14"/><use href="#pt" x="501.32" y="636.20"/><use href="#pt" x="502.54" y="635.28"/><use href="#pt" x="503.75" y="634.37"/><use href="#pt" x="504.93" y="633.48"/><use href="#pt" x="506.10" y="632.60"/><use href="#pt" x="507.25" y="632.37"/><use href="#pt" x="508.39" y="632.14"/><use href="#pt" x="509.51" y="631.92"/><use href="#pt" x="510.62" y="631.70"/><use href="#pt" x="511.72" y="631.48"/><use href="#pt" x="512.81" y="631.26"/><use href="#pt" x="513.89" y="631.04"/><use href="#pt" x="514.96" y="630.74"/><use href="#pt" x="516.02" y="630.42"/><use href="#pt" x="517.07" y="630.11"/><use href="#pt" x="518.11" y="629.80"/><use href="#pt" x="519.15" y="629.49"/><use href="#pt" x="520.18" y="629.18"/><use href="#pt" x="521.20" y="628.87"/><use href="#pt" x="522.22" y="628.58"/><use href="#pt" x="523.24" y="628.37"/><use href="#pt" x="524.25" y="628.17"/><use href="#pt" x="525.25" y="627.97"/><use href="#pt" x="526.25" y="627.77"/><use href="#pt" x="527.25" y="627.57"/><use href="#pt" x="528.25" y="627.37"/><use href="#pt" x="529.24" y="627.17"/><use href="#pt" x="530.24" y="626.93"/><use href="#pt" x="531.23" y="626.44"/><use href="#pt" x="532.22" y="625.95"/><use href="#pt" x="533.21" y="625.47"/><use href="#pt" x="534.19" y="624.98"/><use href="#pt" x="535.18" y="624.49"/><use href="#pt" x="536.17" y="624.00"/><use href="#pt" x="537.16" y="623.51"/><use href="#pt" x="538.16" y="623.02"/><use href="#pt" x="539.15" y="622.53"/><use href="#pt" x="540.15" y="622.03"/><use href="#pt" x="541.15" y="621.53"/><use href="#pt" x="542.15" y="621.03"/><use href="#pt" x="543.15" y="620.52"/><use href="#pt" x="544.16" y="620.02"/><use href="#pt" x="545.18" y="619.51"/><use href="#pt" x="546.20" y="619.00"/><use href="#pt" x="547.22" y="618.62"/><use href="#pt" x="548.25" y="618.23"/><use href="#pt" x="549.29" y="617.84"/><use href="#pt" x="550.33" y="617.45"/><use href="#pt" x="551.38" y="617.06"/><use href="#pt" x="552.44" y="616.66"/><use href="#pt" x="553.51" y="608.31"/><use href="#pt" x="554.59" y="606.52"/><use href="#pt" x="555.68" y="604.70"/><use href="#pt" x="556.78" y="603.97"/><use href="#pt" x="557.89" y="603.38"/><use href="#pt" x="559.01" y="602.77"/><use href="#pt" x="560.15" y="602.16"/><use href="#pt" x="561.30" y="601.54"/><use href="#pt" x="562.47" y="600.97"/><use href="#pt" x="563.65" y="600.73"/><use href="#pt" x="564.86" y="600.49"/><use href="#pt" x="566.08" y="600.24"/><use href="#pt" x="567.32" y="600.00"/><use href="#pt" x="568.58" y="599.74"/><use href="#pt" x="569.87" y="599.49"/><use href="#pt" x="571.18" y="599.25"/><use href="#pt" x="572.52" y="599.03"/><use href="#pt" x="573.89" y="598.80"/><use href="#pt" x="575.29" y="598.21"/><use href="#pt" x="576.73" y="595.34"/><use href="#pt" x="578.21" y="592.39"/><use href="#pt" x="579.72" y="589.33"/><use href="#pt" x="581.29" y="586.17"/><use href="#pt" x="582.90" y="582.90"/><use href="#pt" x="584.57" y="580.21"/><use href="#pt" x="586.30" y="578.17"/><use href="#pt" x="588.10" y="577.72"/><use href="#pt" x="589.97" y="577.24"/><use href="#pt" x="591.93" y="576.76"/><use href="#pt" x="593.99" y="576.36"/><use href="#pt" x="596.17" y="575.94"/><use href="#pt" x="598.47" y="575.50"/><use href="#pt" x="600.93" y="575.00"/><use href="#pt" x="603.57" y="574.46"/><use href="#pt" x="606.43" y="573.88"/><use href="#pt" x="609.56" y="573.28"/><use href="#pt" x="613.04" y="572.61"/><use href="#pt" x="616.97" y="571.81"/><use href="#pt" x="621.53" y="570.79"/><use href="#pt" x="627.01" y="569.00"/><use href="#pt" x="634.00" y="566.80"/><use href="#pt" x="643.96" y="565.77"/><use href="#pt" x="663.30" y="564.60"/></g>
<g font-size="14.2" fill="#222"><text transform="translate(441.0,723.5) scale(0.935,1)" text-anchor="middle">8.0</text><text transform="translate(518.6,723.5) scale(0.935,1)" text-anchor="middle">8.4</text><text transform="translate(596.1,723.5) scale(0.935,1)" text-anchor="middle">8.8</text><text transform="translate(673.9,723.5) scale(0.935,1)" text-anchor="middle">9.2</text><text transform="translate(384.4,573.4) scale(0.935,1)" text-anchor="end">9.0</text><text transform="translate(384.4,622.4) scale(0.935,1)" text-anchor="end">8.5</text><text transform="translate(384.4,670.8) scale(0.935,1)" text-anchor="end">8.0</text></g>
<text x="534.35" y="742.7" text-anchor="middle" font-size="16.4" font-weight="bold">Theoretical Quantiles</text>
<text transform="translate(360.5,619.1) rotate(-90)" text-anchor="middle" font-size="16.45" font-weight="bold">Sample Quantiles</text>
<text x="534.1" y="523.4" text-anchor="middle" font-size="20.1" font-weight="bold">REC</text></svg>
</body></html>
